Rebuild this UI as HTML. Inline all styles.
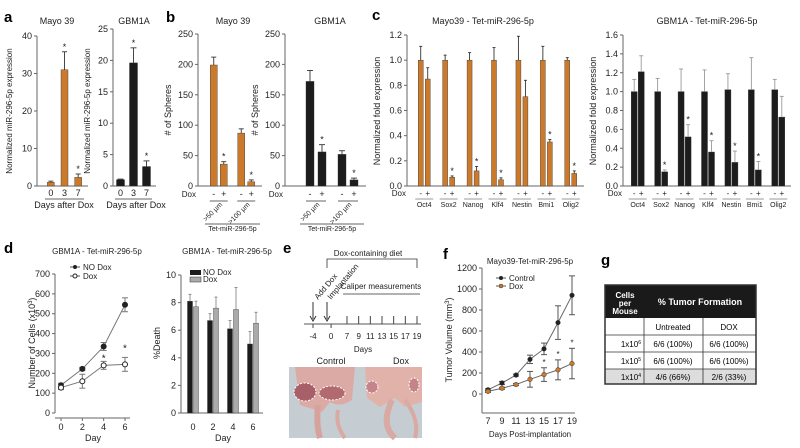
<!DOCTYPE html>
<html><head><meta charset="utf-8">
<style>
html,body{margin:0;padding:0;background:#fff}
svg{display:block;font-family:"Liberation Sans",sans-serif}
</style></head>
<body>
<svg id="fig" width="800" height="448" viewBox="0 0 800 448" xmlns="http://www.w3.org/2000/svg">
<g font-weight="bold" font-size="15">
<text x="4" y="22">a</text><text x="166" y="22">b</text><text x="372" y="20">c</text>
<text x="4" y="253">d</text><text x="283" y="253">e</text><text x="443" y="259">f</text><text x="601" y="265">g</text>
</g>
<g font-size="8" fill="#222">
<text x="368" y="256" text-anchor="middle">Dox-containing diet</text>
<path d="M327 268V259H417V268" fill="none" stroke="#333" stroke-width="0.8"/>
<text transform="translate(318,300) rotate(-50)">Add Dox</text>
<text transform="translate(331,300) rotate(-50)">Implantation</text>
<text x="381" y="289" text-anchor="middle">Caliper measurements</text>
<line x1="343" y1="294" x2="420" y2="294" stroke="#333" stroke-width="0.8"/>
<line x1="313" y1="302" x2="313" y2="319" stroke="#333"/><path d="M310 316L313 321L316 316" fill="none" stroke="#333"/>
<line x1="327" y1="302" x2="327" y2="319" stroke="#333"/><path d="M324 316L327 321L330 316" fill="none" stroke="#333"/>
<line x1="304" y1="324" x2="421" y2="324" stroke="#555"/>
<g id="tl-ticks"></g>
<text x="363" y="352" text-anchor="middle">Days</text>
<text x="331" y="364" text-anchor="middle" font-size="9">Control</text>
<text x="401" y="364" text-anchor="middle" font-size="9">Dox</text>
</g>
<g>
<rect x="289" y="367" width="133" height="71" fill="#c5cdd2"/>
<path d="M295 367H355L352 400Q340 408 330 402L322 412L300 405Z" fill="#dcaaa4"/>
<path d="M365 367H422V402L405 407L395 398L380 407L367 398Z" fill="#e0b2aa"/>
<path d="M318 405Q316 425 320 438" stroke="#d5a39c" stroke-width="6" fill="none"/>
<path d="M338 410Q335 425 345 438" stroke="#d9aaa4" stroke-width="4" fill="none"/>
<path d="M392 400Q380 425 395 438" stroke="#d9aaa4" stroke-width="6" fill="none"/>
<path d="M405 400Q420 420 415 438" stroke="#d9aaa4" stroke-width="4" fill="none"/>
<ellipse cx="305" cy="392" rx="11" ry="9" fill="#a86068" stroke="#fff" stroke-dasharray="2 1.5"/>
<ellipse cx="332" cy="393" rx="13" ry="7" fill="#b06a70" stroke="#fff" stroke-dasharray="2 1.5"/>
<ellipse cx="372" cy="387" rx="6" ry="6" fill="#c4848a" stroke="#fff" stroke-dasharray="2 1.5"/>
<ellipse cx="414" cy="385" rx="5" ry="7" fill="#c4848a" stroke="#fff" stroke-dasharray="2 1.5"/>
</g>
<g font-size="8">
<rect x="605" y="285" width="151" height="33" fill="#1a1a1a"/>
<text x="625" y="298" fill="#fff" font-weight="bold" text-anchor="middle">Cells</text>
<text x="625" y="306" fill="#fff" font-weight="bold" text-anchor="middle">per</text>
<text x="625" y="314" fill="#fff" font-weight="bold" text-anchor="middle">Mouse</text>
<text x="700" y="305" fill="#fff" font-weight="bold" font-size="9" text-anchor="middle">% Tumor Formation</text>
<rect x="605" y="369" width="151" height="15" fill="#ddd"/>
<rect x="605" y="285" width="151" height="99" fill="none" stroke="#333" stroke-width="1.5"/>
<g stroke="#333" stroke-width="0.8">
<line x1="605" y1="335" x2="756" y2="335"/><line x1="605" y1="352" x2="756" y2="352"/><line x1="605" y1="369" x2="756" y2="369"/>
<line x1="644" y1="318" x2="644" y2="384"/><line x1="703" y1="318" x2="703" y2="384"/></g>
<text x="673" y="330" text-anchor="middle">Untreated</text><text x="729" y="330" text-anchor="middle">DOX</text>
<text x="641" y="347" text-anchor="end">1x10<tspan font-size="5" dy="-3">6</tspan></text>
<text x="673" y="347" text-anchor="middle">6/6 (100%)</text><text x="729" y="347" text-anchor="middle">6/6 (100%)</text>
<text x="641" y="364" text-anchor="end">1x10<tspan font-size="5" dy="-3">5</tspan></text>
<text x="673" y="364" text-anchor="middle">6/6 (100%)</text><text x="729" y="364" text-anchor="middle">6/6 (100%)</text>
<text x="641" y="380" text-anchor="end">1x10<tspan font-size="5" dy="-3">4</tspan></text>
<text x="673" y="380" text-anchor="middle">4/6 (66%)</text><text x="729" y="380" text-anchor="middle">2/6 (33%)</text>
</g>
</svg>
<script>
// ---- data ----
const aDays = ['0','3','7'];
const aMayoVals = [1, 31, 2.3];
const aMayoErr = [0.3, 4.8, 0.9];
const aGbmVals = [1, 19.6, 3.1];
const aGbmErr = [0.1, 2.4, 0.9];
const bGroups = ['>50 µm','>100 µm'];
const bMayoNoDox = [199, 87];
const bMayoDox = [36, 7];
const bMayoNoDoxErr = [13, 7];
const bMayoDoxErr = [4, 3];
const bGbmNoDox = [172, 52];
const bGbmDox = [56, 10];
const bGbmNoDoxErr = [18, 6];
const bGbmDoxErr = [12, 3];
const cGenes = ['Oct4','Sox2','Nanog','Klf4','Nestin','Bmi1','Olig2'];
const cMayoNoDox = [1.0, 1.0, 1.0, 1.0, 1.0, 1.0, 1.0];
const cMayoNoDoxErr = [0.11, 0.04, 0.06, 0.10, 0.19, 0.11, 0.02];
const cMayoDox = [0.85, 0.07, 0.12, 0.05, 0.71, 0.35, 0.10];
const cMayoDoxErr = [0.09, 0.01, 0.035, 0.015, 0.13, 0.02, 0.02];
const cGbmNoDox = [1.0, 1.0, 1.0, 1.0, 1.02, 1.02, 1.02];
const cGbmNoDoxErr = [0.13, 0.14, 0.24, 0.23, 0.17, 0.34, 0.11];
const cGbmDox = [1.21, 0.15, 0.52, 0.36, 0.25, 0.17, 0.73];
const cGbmDoxErr = [0.17, 0.02, 0.13, 0.12, 0.12, 0.09, 0.22];
const dDays = [0, 2, 4, 6];
const dNoDox = [140, 222, 335, 545];
const dNoDoxErr = [10, 8, 20, 35];
const dDox = [128, 160, 240, 245];
const dDoxErr = [10, 35, 20, 35];
const dDeathNoDox = [8.1, 6.7, 6.1, 5.0];
const dDeathNoDoxErr = [0.5, 0.5, 0.6, 0.9];
const dDeathDox = [7.7, 7.6, 7.5, 6.5];
const dDeathDoxErr = [0.4, 0.8, 1.6, 0.8];
const eDays = [-4, 0, 7, 9, 11, 13, 15, 17, 19];
const fDays = [7, 9, 11, 13, 15, 17, 19];
const fControl = [40, 105, 180, 330, 430, 680, 940];
const fControlErr = [10, 15, 10, 40, 55, 160, 185];
const fDox = [25, 55, 90, 140, 185, 230, 290];
const fDoxErr = [10, 10, 10, 75, 65, 95, 145];

// ---- helpers ----
const NS = 'http://www.w3.org/2000/svg';
const fig = document.getElementById('fig');
function mk(tag, attrs, parent) {
  const e = document.createElementNS(NS, tag);
  for (const k in attrs) e.setAttribute(k, attrs[k]);
  (parent || fig).appendChild(e);
  return e;
}
function lin(d0, d1, r0, r1) { return v => r0 + (v - d0) * (r1 - r0) / (d1 - d0); }
function band(n, r0, r1) { const w = (r1 - r0) / n; return i => r0 + w * (i + 0.5); }
const ORANGE = '#cb7a2c';
const BLACK = '#1c1c1c';

function yAxis(g, x, y, ticks, fmt, fs) {
  const ax = mk('line', {x1: x, x2: x, y1: y(ticks[ticks.length - 1]), y2: y(ticks[0]), stroke: '#666', 'stroke-width': 1}, g);
  
  
  ticks.forEach(t => {
    mk('line', {x1: x - 3, x2: x, y1: y(t), y2: y(t), stroke: '#666'}, g);
    const tx = mk('text', {x: x - 5, y: y(t) + 3, 'text-anchor': 'end', 'font-size': fs || 9, fill: '#222'}, g);
    tx.textContent = fmt ? fmt(t) : t;
    
    
  });
}
function ytitle(g, x, y, txt, fs) {
  const t = mk('text', {transform: `translate(${x},${y}) rotate(-90)`, 'text-anchor': 'middle', 'font-size': fs || 9, fill: '#222'}, g);
  t.innerHTML = txt;
  
  
}
function text(g, x, y, s, fs, anchor, name) {
  const t = mk('text', {x: x, y: y, 'font-size': fs || 9, 'text-anchor': anchor || 'middle', fill: '#222'}, g);
  t.textContent = s;
  
  
  return t;
}
function bar(g, cx, w, y, v, e, color, ecolor, star) {
  const r = mk('rect', {x: cx - w / 2, y: y(v), width: w, height: y(0) - y(v), fill: color, stroke: '#333', 'stroke-width': 0.4}, g);
  
  
  const top = y(v + e);
  mk('line', {x1: cx, x2: cx, y1: y(v), y2: top, stroke: ecolor, 'stroke-width': 0.9}, g);
  mk('line', {x1: cx - w / 2 + 1, x2: cx + w / 2 - 1, y1: top, y2: top, stroke: ecolor, 'stroke-width': 0.9}, g);
  if (star) text(g, cx, top - 2, '*', 9, 'middle', 'significance-star');
}
function group(name) {
  const g = mk('g', {});
  
  
  return g;
}

// ---- panel a ----
(function () {
  const g = group('panel-a-mayo39');
  const y = lin(0, 40, 186, 36);
  yAxis(g, 37, y, [0, 10, 20, 30, 40]);
  ytitle(g, 12, 111, 'Normalized miR-296-5p expression', 8);
  const x = band(aDays.length, 44, 85);
  mk('line', {x1: 37, x2: 88, y1: 186, y2: 186, stroke: '#666'}, g);
  aDays.forEach((d, i) => { bar(g, x(i), 7, y, aMayoVals[i], aMayoErr[i], ORANGE, '#333', i > 0); text(g, x(i), 196, d, 9, 'middle', 'x-tick-label'); });
  mk('line', {x1: 45, x2: 84, y1: 199, y2: 199, stroke: '#333', 'stroke-width': 0.7}, g);
  text(g, 64, 208, 'Days after Dox', 9);
  text(g, 57, 24, 'Mayo 39', 9, 'middle', 'chart-title');
})();
(function () {
  const g = group('panel-a-gbm1a');
  const y = lin(0, 25, 186, 29);
  yAxis(g, 113, y, [0, 5, 10, 15, 20, 25]);
  ytitle(g, 90, 111, 'Normalized miR-296-5p expression', 8);
  const x = band(aDays.length, 114, 153);
  mk('line', {x1: 113, x2: 156, y1: 186, y2: 186, stroke: '#666'}, g);
  aDays.forEach((d, i) => { bar(g, x(i), 8, y, aGbmVals[i], aGbmErr[i], BLACK, '#333', i > 0); text(g, x(i), 196, d, 9, 'middle', 'x-tick-label'); });
  mk('line', {x1: 115, x2: 152, y1: 199, y2: 199, stroke: '#333', 'stroke-width': 0.7}, g);
  text(g, 136, 208, 'Days after Dox', 9);
  text(g, 134, 24, 'GBM1A', 9, 'middle', 'chart-title');
})();

// ---- panel b ----
function panelB(name, ax, r0, r1, noDox, noDoxE, dox, doxE, color, title, tx, off, w) {
  const g = group(name);
  const y = lin(0, 250, 186, 34);
  yAxis(g, ax, y, [0, 50, 100, 150, 200, 250]);
  ytitle(g, ax - 27, 110, '# of Spheres');
  mk('line', {x1: ax, x2: r1 + 2, y1: 186, y2: 186, stroke: '#666'}, g);
  const x = band(bGroups.length, r0, r1);
  text(g, ax - 2, 197, 'Dox', 8, 'end', 'dox-label');
  bGroups.forEach((gr, i) => {
    bar(g, x(i) - off, w, y, noDox[i], noDoxE[i], color, '#333', false);
    bar(g, x(i) + off, w, y, dox[i], doxE[i], color, '#333', true);
    text(g, x(i) - off, 197, '-', 9, 'middle', 'dox-minus');
    text(g, x(i) + off, 197, '+', 9, 'middle', 'dox-plus');
    mk('line', {x1: x(i) - off - 4, x2: x(i) + off + 4, y1: 201, y2: 201, stroke: '#333', 'stroke-width': 0.7}, g);
    const t = mk('text', {transform: `translate(${x(i) + 4},${205}) rotate(-45)`, 'text-anchor': 'end', 'font-size': 7, fill: '#222'}, g);
    t.textContent = gr;
    
    
  });
  mk('line', {x1: r0, x2: r1, y1: 224, y2: 224, stroke: '#333', 'stroke-width': 0.7}, g);
  text(g, (r0 + r1) / 2, 231, 'Tet-miR-296-5p', 7, 'middle', 'group-caption');
  text(g, tx, 24, title, 9, 'middle', 'chart-title');
}
panelB('panel-b-mayo39', 198, 205, 260, bMayoNoDox, bMayoNoDoxErr, bMayoDox, bMayoDoxErr, ORANGE, 'Mayo 39', 233, 5, 7);
panelB('panel-b-gbm1a', 285, 300, 364, bGbmNoDox, bGbmNoDoxErr, bGbmDox, bGbmDoxErr, BLACK, 'GBM1A', 330, 6, 8);

// ---- panel c ----
function panelC(name, ax, r0, r1, ymax, ticks, noDox, noDoxE, dox, doxE, color, ecolor, title, tx, w) {
  const g = group(name);
  const y = lin(0, ymax, 186, 35);
  yAxis(g, ax, y, ticks, t => t.toFixed(1), 9);
  ytitle(g, ax - 27, 111, 'Normalized fold expression');
  mk('line', {x1: ax, x2: r1 + 1, y1: 186, y2: 186, stroke: '#666'}, g);
  const x = band(cGenes.length, r0, r1);
  text(g, ax - 1, 196, 'Dox', 8, 'end', 'dox-label');
  cGenes.forEach((gn, i) => {
    bar(g, x(i) - 3.5, w, y, noDox[i], noDoxE[i], color, ecolor, false);
    bar(g, x(i) + 3.5, w, y, dox[i], doxE[i], color, ecolor, dox[i] < 0.7);
    text(g, x(i) - 3.5, 196, '-', 8, 'middle', 'dox-minus');
    text(g, x(i) + 3.5, 196, '+', 8, 'middle', 'dox-plus');
    mk('line', {x1: x(i) - 9, x2: x(i) + 9, y1: 199, y2: 199, stroke: '#333', 'stroke-width': 0.6}, g);
    text(g, x(i), 207, gn, 7, 'middle', 'gene-label');
  });
  text(g, tx, 24, title, 9, 'middle', 'chart-title');
}
panelC('panel-c-mayo39', 407, 412, 583, 1.2, [0, 0.2, 0.4, 0.6, 0.8, 1.0, 1.2], cMayoNoDox, cMayoNoDoxErr, cMayoDox, cMayoDoxErr, ORANGE, '#333', 'Mayo39 - Tet-miR-296-5p', 483, 5);
panelC('panel-c-gbm1a', 623, 626, 790, 1.6, [0, 0.2, 0.4, 0.6, 0.8, 1.0, 1.2, 1.4, 1.6], cGbmNoDox, cGbmNoDoxErr, cGbmDox, cGbmDoxErr, BLACK, '#999', 'GBM1A - Tet-miR-296-5p', 707, 6);

// ---- panel d line ----
(function () {
  const g = group('panel-d-growth');
  const y = lin(0, 700, 413, 274);
  const x = lin(0, 6, 61, 125);
  yAxis(g, 55, y, [0, 100, 200, 300, 400, 500, 600, 700]);
  ytitle(g, 35, 343, 'Number of Cells (x10<tspan font-size="6" dy="-3">3</tspan><tspan dy="3">)</tspan>');
  mk('line', {x1: 55, x2: 130, y1: 418, y2: 418, stroke: '#666'}, g);
  dDays.forEach(d => { mk('line', {x1: x(d), x2: x(d), y1: 418, y2: 421, stroke: '#666'}, g); text(g, x(d), 430, String(d), 9, 'middle', 'x-tick-label'); });
  text(g, 93, 441, 'Day', 9, 'middle', 'x-axis-title');
  [[dNoDox, dNoDoxErr, '#222', 'no-dox'], [dDox, dDoxErr, '#fff', 'dox']].forEach(([vals, errs, fill, nm]) => {
    const p = mk('polyline', {points: dDays.map((d, i) => x(d) + ',' + y(vals[i])).join(' '), fill: 'none', stroke: '#777', 'stroke-width': 1}, g);
    
    
    dDays.forEach((d, i) => {
      mk('line', {x1: x(d), x2: x(d), y1: y(vals[i] - errs[i]), y2: y(vals[i] + errs[i]), stroke: '#777'}, g);
      mk('line', {x1: x(d) - 3, x2: x(d) + 3, y1: y(vals[i] + errs[i]), y2: y(vals[i] + errs[i]), stroke: '#777'}, g);
      mk('line', {x1: x(d) - 3, x2: x(d) + 3, y1: y(vals[i] - errs[i]), y2: y(vals[i] - errs[i]), stroke: '#777'}, g);
      const c = mk('circle', {cx: x(d), cy: y(vals[i]), r: 2.5, fill: fill, stroke: '#222'}, g);
      
      
    });
  });
  text(g, x(4), y(dNoDox[2]) + 15, '*', 10, 'middle', 'significance-star');
  text(g, x(6), y(dDox[3] + dDoxErr[3]) - 6, '*', 10, 'middle', 'significance-star');
  mk('line', {x1: 70, x2: 80, y1: 267, y2: 267, stroke: '#555'}, g); mk('circle', {cx: 75, cy: 267, r: 2, fill: '#222'}, g);
  text(g, 83, 270, 'NO Dox', 8, 'start', 'legend-entry');
  mk('line', {x1: 70, x2: 80, y1: 276, y2: 276, stroke: '#555'}, g); mk('circle', {cx: 75, cy: 276, r: 2, fill: '#fff', stroke: '#222'}, g);
  text(g, 83, 279, 'Dox', 8, 'start', 'legend-entry');
  text(g, 97, 254, 'GBM1A - Tet-miR-296-5p', 8, 'middle', 'chart-title');
})();

// ---- panel d bars ----
(function () {
  const g = group('panel-d-death');
  const y = lin(0, 10, 413, 275);
  yAxis(g, 181, y, [0, 2, 4, 6, 8, 10]);
  ytitle(g, 160, 343, '%Death');
  mk('line', {x1: 181, x2: 263, y1: 413, y2: 413, stroke: '#666'}, g);
  const x = band(dDays.length, 183, 263);
  dDays.forEach((d, i) => {
    bar(g, x(i) - 3, 5, y, dDeathNoDox[i], dDeathNoDoxErr[i], BLACK, '#888', false);
    bar(g, x(i) + 3, 5, y, dDeathDox[i], dDeathDoxErr[i], '#aaa', '#888', false);
    text(g, x(i), 430, String(d), 9, 'middle', 'x-tick-label');
  });
  text(g, 223, 441, 'Day', 9, 'middle', 'x-axis-title');
  mk('rect', {x: 190, y: 270, width: 11, height: 5, fill: BLACK}, g);
  text(g, 203, 275, 'NO Dox', 8, 'start', 'legend-entry');
  mk('rect', {x: 190, y: 277, width: 11, height: 5, fill: '#aaa', stroke: '#333', 'stroke-width': 0.5}, g);
  text(g, 203, 282, 'Dox', 8, 'start', 'legend-entry');
  text(g, 227, 254, 'GBM1A - Tet-miR-296-5p', 8, 'middle', 'chart-title');
})();

// ---- panel e timeline ticks ----
(function () {
  const g = document.getElementById('tl-ticks');
  const x = lin(-4, 19, 313, 417);
  const pos = d => d <= 0 ? x(d) : lin(7, 19, 347, 417)(d);
  eDays.forEach(d => {
    mk('line', {x1: pos(d), x2: pos(d), y1: 324, y2: d > 0 ? 316 : 328, stroke: '#444'}, g);
    text(g, pos(d), 339, String(d), 8, 'middle', 'timeline-day');
  });
})();

// ---- panel f ----
(function () {
  const g = group('panel-f-tumor-volume');
  const y = lin(0, 1200, 394, 268);
  const x = lin(7, 19, 488, 572);
  yAxis(g, 482, y, [0, 200, 400, 600, 800, 1000, 1200]);
  mk('line', {x1: 482, x2: 482, y1: 394, y2: 413, stroke: '#666'}, g);
  ytitle(g, 452, 340, 'Tumor Volume (mm<tspan font-size="6" dy="-3">3</tspan><tspan dy="3">)</tspan>');
  mk('line', {x1: 482, x2: 575, y1: 413, y2: 413, stroke: '#666'}, g);
  fDays.forEach(d => text(g, x(d), 424, String(d), 9, 'middle', 'x-tick-label'));
  text(g, 530, 437, 'Days Post-implantation', 8, 'middle', 'x-axis-title');
  [[fControl, fControlErr, '#222', 'control'], [fDox, fDoxErr, ORANGE, 'dox']].forEach(([vals, errs, fill, nm]) => {
    const p = mk('polyline', {points: fDays.map((d, i) => x(d) + ',' + y(vals[i])).join(' '), fill: 'none', stroke: '#666', 'stroke-width': 1}, g);
    
    
    fDays.forEach((d, i) => {
      mk('line', {x1: x(d), x2: x(d), y1: y(vals[i] - errs[i]), y2: y(vals[i] + errs[i]), stroke: '#555'}, g);
      mk('line', {x1: x(d) - 3, x2: x(d) + 3, y1: y(vals[i] + errs[i]), y2: y(vals[i] + errs[i]), stroke: '#555'}, g);
      mk('line', {x1: x(d) - 3, x2: x(d) + 3, y1: y(vals[i] - errs[i]), y2: y(vals[i] - errs[i]), stroke: '#555'}, g);
      const c = mk('circle', {cx: x(d), cy: y(vals[i]), r: 2.3, fill: fill, stroke: '#333', 'stroke-width': 0.5}, g);
      
      
    });
  });
  [4, 5, 6].forEach(i => text(g, x(fDays[i]), y(fDox[i] + fDoxErr[i]) - 3, '*', 8, 'middle', 'significance-star'));
  mk('line', {x1: 496, x2: 506, y1: 278, y2: 278, stroke: '#555'}, g); mk('circle', {cx: 501, cy: 278, r: 2, fill: '#222'}, g);
  text(g, 509, 281, 'Control', 8, 'start', 'legend-entry');
  mk('line', {x1: 496, x2: 506, y1: 286, y2: 286, stroke: '#555'}, g); mk('circle', {cx: 501, cy: 286, r: 2, fill: ORANGE, stroke: '#333', 'stroke-width': 0.5}, g);
  text(g, 509, 289, 'Dox', 8, 'start', 'legend-entry');
  text(g, 530, 264, 'Mayo39-Tet-miR-296-5p', 8, 'middle', 'chart-title');
})();
</script>
</body></html>
